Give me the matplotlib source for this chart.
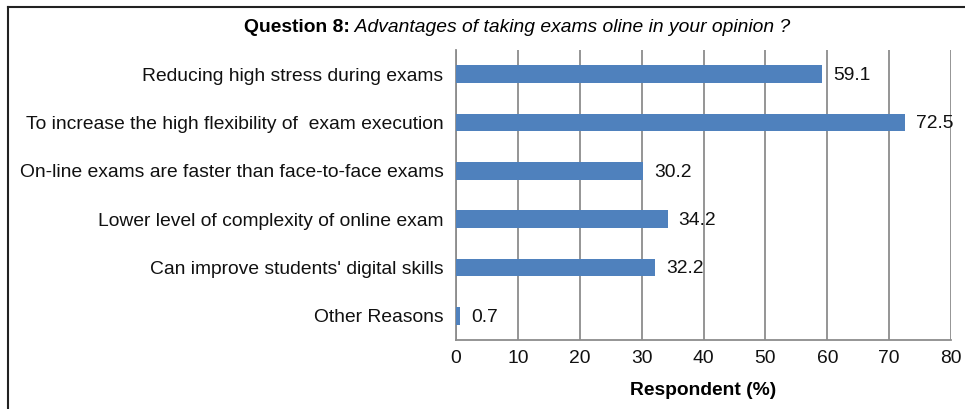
import matplotlib.pyplot as plt
from matplotlib.lines import Line2D

plt.rcParams['font.family'] = ['Liberation Sans', 'DejaVu Sans']

reasons = [
    "Reducing high stress during exams",
    "To increase the high flexibility of  exam execution",
    "On-line exams are faster than face-to-face exams",
    "Lower level of complexity of online exam",
    "Can improve students' digital skills",
    "Other Reasons",
]
percent = [59.1, 72.5, 30.2, 34.2, 32.2, 0.7]
xticks = [0, 10, 20, 30, 40, 50, 60, 70, 80]

W, H = 965, 409
FS = 13.9
fig = plt.figure(figsize=(W / 100, H / 100), dpi=100)
ax = fig.add_axes([456 / W, 1 - 340 / H, (951 - 456) / W, (340 - 50) / H])

ypos = list(range(len(reasons)))[::-1]
bars = ax.barh(ypos, percent, height=0.37, color='#4F81BD', zorder=3)
for b, v in zip(bars, percent):
    ax.annotate(f"{v}", (b.get_width(), b.get_y() + b.get_height() / 2),
                xytext=(8, -1), textcoords='offset points',
                va='center', ha='left', fontsize=FS, color='#111111', zorder=4)

ax.set_xlim(0, 80)
ax.set_ylim(-0.5, len(reasons) - 0.5)
ax.set_xticks(xticks)
ax.set_yticks(ypos)
ax.set_yticklabels(reasons)
ax.tick_params(axis='both', length=0, labelsize=FS, colors='#111111')
ax.tick_params(axis='x', pad=7)
ax.tick_params(axis='y', pad=9)
ax.grid(axis='x', color='#8c8c8c', linewidth=1.3, zorder=0)
for side in ('top', 'right'):
    ax.spines[side].set_visible(False)
for side in ('left', 'bottom'):
    ax.spines[side].set_color('#8c8c8c')
    ax.spines[side].set_linewidth(1.3)

ax.set_xlabel("Respondent (%)", fontsize=FS, fontweight='bold', labelpad=11)

# title: bold lead-in followed by italic question text
t1 = fig.text(0, 1 - 27 / H, "Question 8:", fontsize=FS, fontweight='bold',
              va='center', ha='left')
t2 = fig.text(0, 1 - 27 / H, " Advantages of taking exams oline in your opinion ?",
              fontsize=FS, style='italic', va='center', ha='left')
fig.canvas.draw()
r = fig.canvas.get_renderer()
w1 = t1.get_window_extent(r).width
w2 = t2.get_window_extent(r).width
x0 = 517 - (w1 + w2) / 2
t1.set_x(x0 / W)
t2.set_x((x0 + w1) / W)

# frame lines along the top and left edge
fig.add_artist(Line2D([8 / W, 1], [1 - 7 / H, 1 - 7 / H], color='#222222', linewidth=1.5))
fig.add_artist(Line2D([8 / W, 8 / W], [0, 1 - 7 / H], color='#222222', linewidth=1.5))

fig.savefig('out.png', dpi=100)
